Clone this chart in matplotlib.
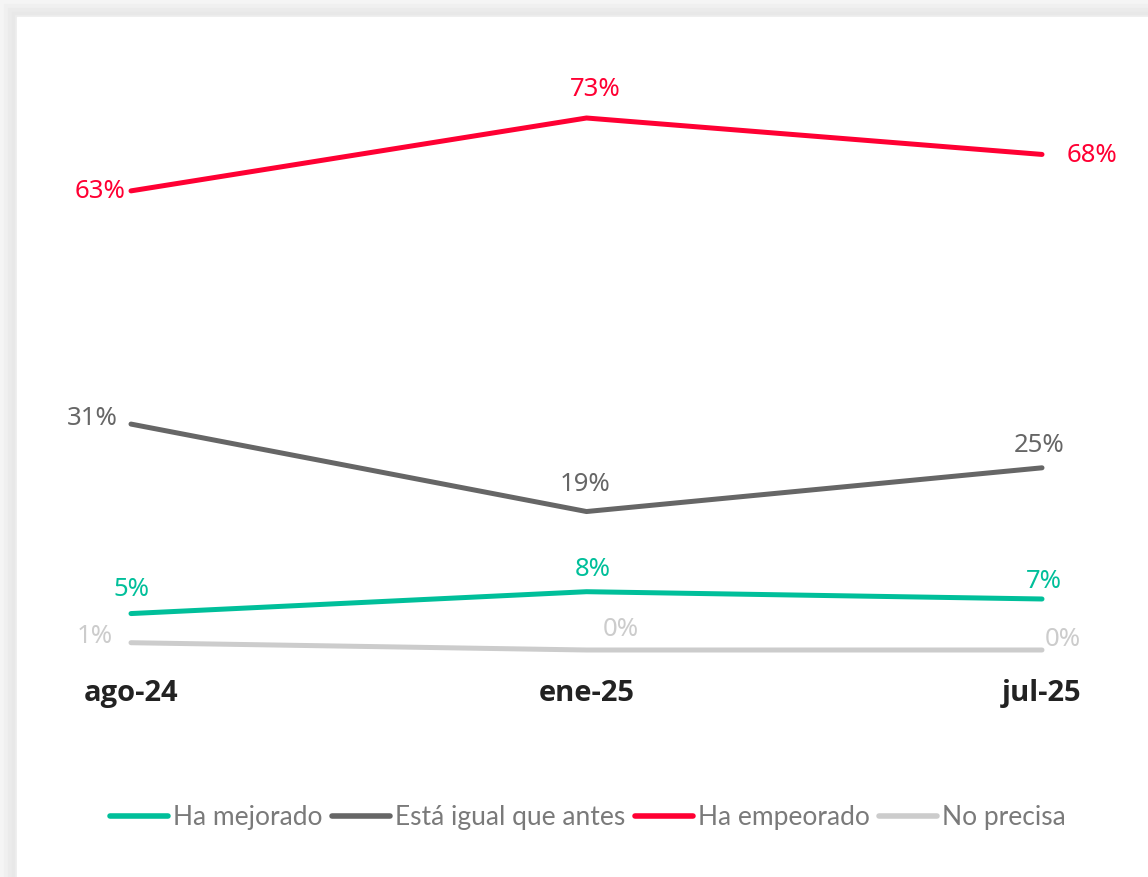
import matplotlib
matplotlib.use("Agg")
import matplotlib.pyplot as plt
from matplotlib.patches import Rectangle
from matplotlib.lines import Line2D

# ---- data ----
periods = ["ago-24", "ene-25", "jul-25"]
series_names = ["Ha mejorado", "Está igual que antes", "Ha empeorado", "No precisa"]
mejorado = [5, 8, 7]
igual = [31, 19, 25]
empeorado = [63, 73, 68]
no_precisa = [1, 0, 0]

colors = ["#00BF9A", "#666666", "#FF0033", "#CCCCCC"]

# label offsets in pixels (dx, dy, ha) per series per point
offsets = {
    "Ha mejorado": [(0, 24, "center"), (6, 22, "center"), (2, 17, "center")],
    "Está igual que antes": [(-13, 6, "right"), (-1, 27, "center"), (-3, 22, "center")],
    "Ha empeorado": [(-6, -1, "right"), (9, 29, "center"), (25, -1, "left")],
    "No precisa": [(-18, 6, "right"), (34, 20, "center"), (3, 10, "left")],
}

W, H = 1148, 877
DPI = 100
fig = plt.figure(figsize=(W / DPI, H / DPI), dpi=DPI)
fig.patch.set_facecolor("#ffffff")

# card shadow / background
bg = fig.add_axes([0, 0, 1, 1], zorder=-10)
bg.set_xlim(0, W)
bg.set_ylim(H, 0)
bg.axis("off")
bg.add_patch(Rectangle((0, 0), W, H, color="#f5f5f5"))
shade = [(4, "#f0f0f0"), (8, "#ebebeb"), (12, "#e8e8e8"), (15, "#ececec")]
for off, c in shade:
    bg.add_patch(Rectangle((off, off), W, H, color=c))
bg.add_patch(Rectangle((17, 17), W, H, color="#ffffff"))

# main axes: x 0..2 -> px 131..1042 ; y 0..73 -> px 650..118
x0, x1 = 131, 1042
y0, y1 = 650, 118
ax = fig.add_axes([x0 / W, (H - y0) / H, (x1 - x0) / W, (y0 - y1) / H])
ax.set_xlim(0, 2)
ax.set_ylim(0, 73)
ax.patch.set_alpha(0)
for s in ax.spines.values():
    s.set_visible(False)
ax.set_yticks([])
xs = list(range(len(periods)))
ax.set_xticks(xs)
ax.set_xticklabels(periods, fontsize=21, fontweight="bold", color="#222222",
                   family=["Open Sans", "DejaVu Sans"])
ax.tick_params(axis="x", length=0, pad=21)

all_series = [mejorado, igual, empeorado, no_precisa]
order = [3, 0, 1, 2]
for idx in order:
    name = series_names[idx]
    vals = all_series[idx]
    ax.plot(xs, vals, color=colors[idx], lw=3.6, solid_capstyle="round",
            solid_joinstyle="round", clip_on=False, zorder=3, label=name)
    for j, v in enumerate(vals):
        dx, dy, ha = offsets[name][j]
        ax.annotate(f"{v}%", (xs[j], v), xytext=(dx * 72 / DPI, dy * 72 / DPI),
                    textcoords="offset points", ha=ha, va="center",
                    fontsize=18.5, color=colors[idx],
                    family=["Noto Sans", "DejaVu Sans"], annotation_clip=False)

handles = [Line2D([0], [0], color=colors[i], lw=4, solid_capstyle="round")
           for i in range(4)]
leg = fig.legend(handles, series_names, loc="center",
                 bbox_to_anchor=(588 / W, 1 - 818 / H), ncol=4, frameon=False,
                 handlelength=2.2, handletextpad=0.2, columnspacing=0.35,
                 prop={"family": ["Lato", "DejaVu Sans"], "size": 19})
for t in leg.get_texts():
    t.set_color("#7a7a7a")

fig.savefig("out.png", dpi=DPI)
